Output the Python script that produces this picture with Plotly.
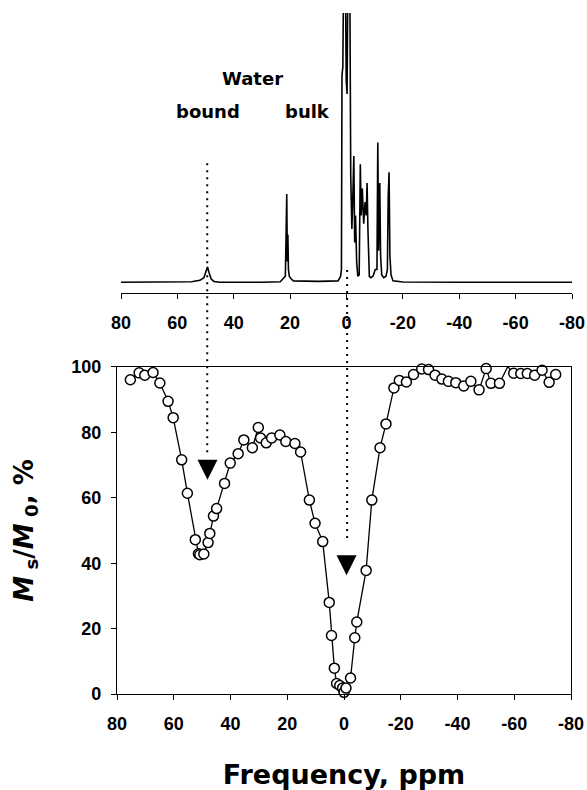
import plotly.graph_objects as go

# NMR spectrum (top panel), ppm vs. intensity (arbitrary units)
spec_ppm = [80, 60, 55, 52, 50.6, 49.8, 49.3, 48.8, 48.0, 47.0, 45, 30, 23.5, 22.6,
            21.7, 21.4, 21.2, 21.0, 20.8, 20.6, 20.3, 19.6, 18.8, 10, 3, 2.1, 1.8,
            1.6, 1.3, 0.9, 0.5, 0.1, -0.2, -0.6, -1.1, -1.5, -1.9, -2.2, -2.6, -2.9,
            -3.2, -3.6, -4.0, -4.5, -4.9, -5.2, -5.6, -6.1, -6.6, -7.0, -7.3, -7.6,
            -8.1, -8.6, -9.4, -10.2, -10.8, -11.1, -11.4, -11.8, -12.1, -12.5, -13.2,
            -14.0, -14.5, -14.8, -15.1, -15.4, -15.8, -16.5, -20, -40, -60, -80]
spec_int = [0.3, 0.3, 0.5, 1.0, 2.0, 4.5, 6.0, 4.0, 1.5, 0.6, 0.3, 0.3, 0.5, 1.5,
            2.5, 20, 33, 8, 18, 5, 2.5, 1.5, 0.8, 0.6, 0.8, 2.5, 5,
            77, 80, 130, 130, 75, 70, 130, 130, 40, 20, 30, 47, 15,
            25, 8, 2.5, 3, 44, 25, 35, 22, 30, 25, 37, 20,
            2.5, 2, 2.5, 5, 5, 52, 12, 37, 10, 3, 2,
            2.5, 5, 32, 41, 10, 3, 0.8, 0.4, 0.3, 0.3, 0.3]

# Z-spectrum (bottom panel)
z_ppm = [75.3, 72.2, 70.2, 67.3, 64.9, 62.0, 60.2, 57.2, 55.2, 52.4, 51.3, 50.8, 49.4,
         47.9, 47.3, 46.0, 44.9, 42.1, 40.1, 37.3, 35.3, 32.3, 30.2, 29.4, 27.4, 25.5,
         22.6, 20.5, 17.3, 15.3, 12.2, 10.2, 7.5, 5.2, 4.4, 3.4, 2.6, 1.5, 0.5, 0.0,
         -0.7, -2.3, -3.8, -4.5, -7.8, -9.8, -12.7, -14.8, -17.6, -19.5, -22.0, -24.5,
         -27.4, -29.8, -32.1, -34.5, -36.8, -39.4, -42.2, -44.7, -47.6, -50.1, -51.8,
         -54.8, -57.7, -59.8, -62.3, -64.6, -67.2, -69.8, -72.3, -74.6]
z_val = [96.1, 98.2, 97.5, 98.3, 95.1, 89.5, 84.5, 71.6, 61.4, 47.2, 42.9, 42.6, 42.8,
         46.3, 49.1, 54.4, 56.7, 64.4, 70.6, 73.5, 77.7, 75.3, 81.5, 78.3, 76.8, 78.3,
         79.2, 77.2, 76.6, 74.0, 59.3, 52.2, 46.6, 28.0, 17.9, 7.9, 3.2, 2.6, 1.8, 0.5,
         1.8, 4.9, 17.2, 22.0, 37.8, 59.3, 75.3, 82.6, 93.6, 95.9, 95.4, 97.7,
         99.4, 99.2, 97.5, 96.3, 95.6, 95.2, 94.2, 95.6, 93.0, 99.5, 95.0,
         95.0, 100.1, 98.1, 98.0, 98.0, 97.5, 99.0, 95.3, 97.7]

# resonance markers (apex of arrow) and dotted guides
tri_ppm = [48.1, -0.9]
tri_val = [65.5, 36.3]
guide_ppm = [48.2, -1.1]
guide_top = [44.4, 4.8]      # in spectrum units
guide_bottom = [73.5, 46.3]  # in Ms/M0 units

tick_vals = [80, 60, 40, 20, 0, -20, -40, -60, -80]
tick_text = ["80", "60", "40", "20", "0", "-20", "-40", "-60", "-80"]

top_rng = [-3.8, 100]
bot_rng = [0, 100]
top_dom = [0.5884, 1.0]
bot_dom = [0.0, 0.4802]

tick_font = dict(family="Liberation Sans, Arial", size=18, color="black", weight="bold")
title_font = dict(family="DejaVu Sans", size=26, color="black", weight="bold")

fig = go.Figure()

fig.add_trace(go.Scatter(x=spec_ppm, y=spec_int, mode="lines",
                         line=dict(color="black", width=1.6),
                         xaxis="x", yaxis="y", hoverinfo="skip"))

fig.add_trace(go.Scatter(x=z_ppm, y=z_val, mode="lines+markers",
                         line=dict(color="black", width=1.3),
                         marker=dict(symbol="circle", size=10, color="white",
                                     line=dict(color="black", width=1.5)),
                         cliponaxis=False, xaxis="x2", yaxis="y2"))

fig.add_trace(go.Scatter(x=tri_ppm, y=tri_val, mode="markers",
                         marker=dict(symbol="arrow-down", size=20, color="black"),
                         cliponaxis=False, xaxis="x2", yaxis="y2"))


def to_paper(v, rng, dom):
    return dom[0] + (v - rng[0]) / (rng[1] - rng[0]) * (dom[1] - dom[0])


for p, t, b in zip(guide_ppm, guide_top, guide_bottom):
    fig.add_shape(type="line", xref="x2", yref="paper",
                  x0=p, x1=p,
                  y0=to_paper(t, top_rng, top_dom),
                  y1=to_paper(b, bot_rng, bot_dom),
                  line=dict(color="black", width=2, dash="2px,5px"), layer="below")

ann_font = dict(family="DejaVu Sans", size=18, color="black", weight="bold")
fig.add_annotation(x=33.4, y=75.6, xref="x", yref="y", text="Water",
                   showarrow=False, font=ann_font)
fig.add_annotation(x=49.3, y=63.4, xref="x", yref="y", text="bound",
                   showarrow=False, font=ann_font)
fig.add_annotation(x=13.9, y=63.4, xref="x", yref="y", text="bulk",
                   showarrow=False, font=ann_font)

fig.update_layout(
    width=587, height=790,
    margin=dict(l=117, r=15, t=13, b=96),
    paper_bgcolor="white", plot_bgcolor="white",
    showlegend=False,
    xaxis=dict(domain=[0.0088, 1.0], range=[80, -80], anchor="y",
               tickvals=tick_vals, ticktext=tick_text, ticks="outside", ticklen=5,
               tickwidth=1, tickcolor="black", showline=True, linecolor="black",
               linewidth=1, showgrid=False, zeroline=False, tickfont=tick_font,
               ticklabelstandoff=8, automargin=False),
    yaxis=dict(domain=top_dom, range=top_rng, visible=False, anchor="x"),
    xaxis2=dict(domain=[0.0, 0.9978], range=[80, -80], anchor="y2",
                tickvals=tick_vals, ticktext=tick_text, ticks="outside", ticklen=5,
                tickwidth=1, tickcolor="black", showline=True, linecolor="black",
                linewidth=1.2, mirror=True, showgrid=False, zeroline=False,
                tickfont=tick_font, ticklabelstandoff=8, automargin=False,
                title=dict(text="Frequency, ppm",
                           font=dict(title_font, size=27), standoff=36)),
    yaxis2=dict(domain=bot_dom, range=bot_rng, anchor="x2",
                tickvals=[0, 20, 40, 60, 80, 100], ticks="outside", ticklen=5,
                tickwidth=1, tickcolor="black", showline=True, linecolor="black",
                linewidth=1.2, mirror=True, showgrid=False, zeroline=False,
                tickfont=tick_font, ticklabelstandoff=6, automargin=False,
                title=dict(text="<i>M</i><sub> s</sub>/<i>M</i><sub> 0</sub>, %",
                           font=title_font, standoff=30)),
)

# drop the default 8px body margin so the figure fills the window exactly
fig.write_html("out.html",
               config={"displayModeBar": False},
               post_script="document.body.style.margin='0';"
                           "document.body.style.overflow='hidden';")
